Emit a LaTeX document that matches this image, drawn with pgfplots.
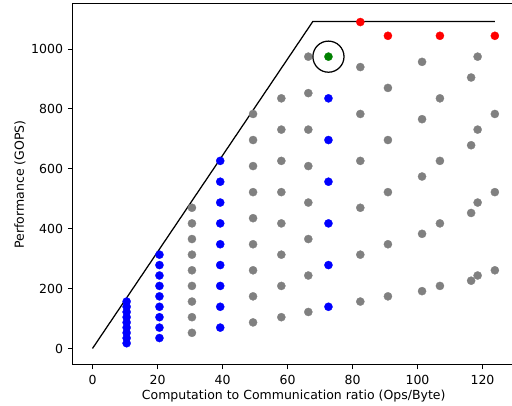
\documentclass[border=0pt]{standalone}
\usepackage{pgfplots}
\pgfplotsset{compat=1.18}
\usepackage{fontspec}
\setmainfont{DejaVu Sans}
\definecolor{mgray}{HTML}{808080}
\definecolor{mblue}{HTML}{0000FF}
\definecolor{mred}{HTML}{FF0000}
\definecolor{mgreen}{HTML}{008000}
\begin{document}
\begin{tikzpicture}
\begin{axis}[
  scale only axis, width=318.7pt, height=259.9pt,
  xmin=-6.2, xmax=130, ymin=-54.8, ymax=1150.6,
  xtick={0,20,...,120}, ytick={0,200,...,1000},
  tick align=outside, xtick pos=bottom, ytick pos=left,
  major tick length=3.2pt,
  tick style={black, line width=0.7pt},
  axis line style={line width=0.7pt},
  /pgf/number format/assume math mode=true,
  /pgf/number format/1000 sep={},
  scaled ticks=false,
  ticklabel style={font=\fontsize{9}{11}\selectfont},
  xticklabel style={yshift=-0.5pt},
  every axis x label/.style={at={(axis description cs:0.5,0)}, anchor=center, yshift=-22.3pt, font=\fontsize{9}{11}\selectfont},
  every axis y label/.style={at={(axis description cs:0,0.5)}, anchor=center, xshift=-37.7pt, rotate=90, font=\fontsize{9}{11}\selectfont},
  xlabel={Computation to Communication ratio (Ops/Byte)},
  ylabel={Performance (GOPS)},
  clip=false,
]
% grey points
\addplot[mgray, only marks, mark=*, mark size=2.95pt, mark options={fill=mgray, draw=mgray, line width=0.2pt}] coordinates {
(30.6,52.2)(30.6,104.4)(30.6,156.6)(30.6,208.8)(30.6,261)(30.6,313.2)(30.6,365.4)(30.6,417.6)(30.6,469.8)
(49.4,87)(49.4,174)(49.4,261)(49.4,348)(49.4,435)(49.4,522)(49.4,609)(49.4,696)(49.4,783)
(58.1,104.4)(58.1,208.8)(58.1,313.2)(58.1,417.6)(58.1,522)(58.1,626.4)(58.1,730.8)(58.1,835.2)
(66.4,121.8)(66.4,243.6)(66.4,365.4)(66.4,487.2)(66.4,609)(66.4,730.8)(66.4,852.6)(66.4,974.4)
(82.4,156.6)(82.4,313.2)(82.4,469.8)(82.4,626.4)(82.4,783)(82.4,939.6)
(90.9,174)(90.9,348)(90.9,522)(90.9,696)(90.9,870)
(101.4,191.4)(101.4,382.8)(101.4,574.2)(101.4,765.6)(101.4,957)
(106.9,208.8)(106.9,417.6)(106.9,626.4)(106.9,835.2)
(116.5,226.2)(116.5,452.4)(116.5,678.6)(116.5,904.8)
(118.5,243.6)(118.5,487.2)(118.5,730.8)(118.5,974.4)
(123.8,261)(123.8,522)(123.8,783)
};
% blue points
\addplot[mblue, only marks, mark=*, mark size=2.95pt, mark options={fill=mblue, draw=mblue, line width=0.2pt}] coordinates {
(10.5,17.4)(10.5,34.8)(10.5,52.2)(10.5,69.6)(10.5,87)(10.5,104.4)(10.5,121.8)(10.5,139.2)(10.5,156.6)
(20.6,34.8)(20.6,69.6)(20.6,104.4)(20.6,139.2)(20.6,174)(20.6,208.8)(20.6,243.6)(20.6,278.4)(20.6,313.2)
(39.3,69.6)(39.3,139.2)(39.3,208.8)(39.3,278.4)(39.3,348)(39.3,417.6)(39.3,487.2)(39.3,556.8)(39.3,626.4)
(72.6,139.2)(72.6,278.4)(72.6,417.6)(72.6,556.8)(72.6,696)(72.6,835.2)
};
% red points
\addplot[mred, only marks, mark=*, mark size=2.95pt, mark options={fill=mred, draw=mred, line width=0.2pt}] coordinates {
(82.4,1090)(90.9,1044)(106.9,1044)(123.8,1044)
};
% green point
\addplot[mgreen, only marks, mark=*, mark size=2.95pt, mark options={fill=mgreen, draw=mgreen, line width=0.2pt}] coordinates {
(72.6,974.4)
};
% highlight circle
\addplot[black, only marks, mark=o, mark size=11.2pt, mark options={draw=black, line width=0.9pt}] coordinates {
(72.6,974.4)
};
% roofline
\addplot[black, line width=0.9pt, mark=none] coordinates {
(0,0)(67.8,1092)(123.8,1092)
};
\end{axis}
\pgfresetboundingbox
\path[use as bounding box] ([xshift=-52.1pt,yshift=-29.6pt]current axis.south west) rectangle ([xshift=-2.16pt,yshift=2.8pt]current axis.north east);
\end{tikzpicture}
\end{document}
